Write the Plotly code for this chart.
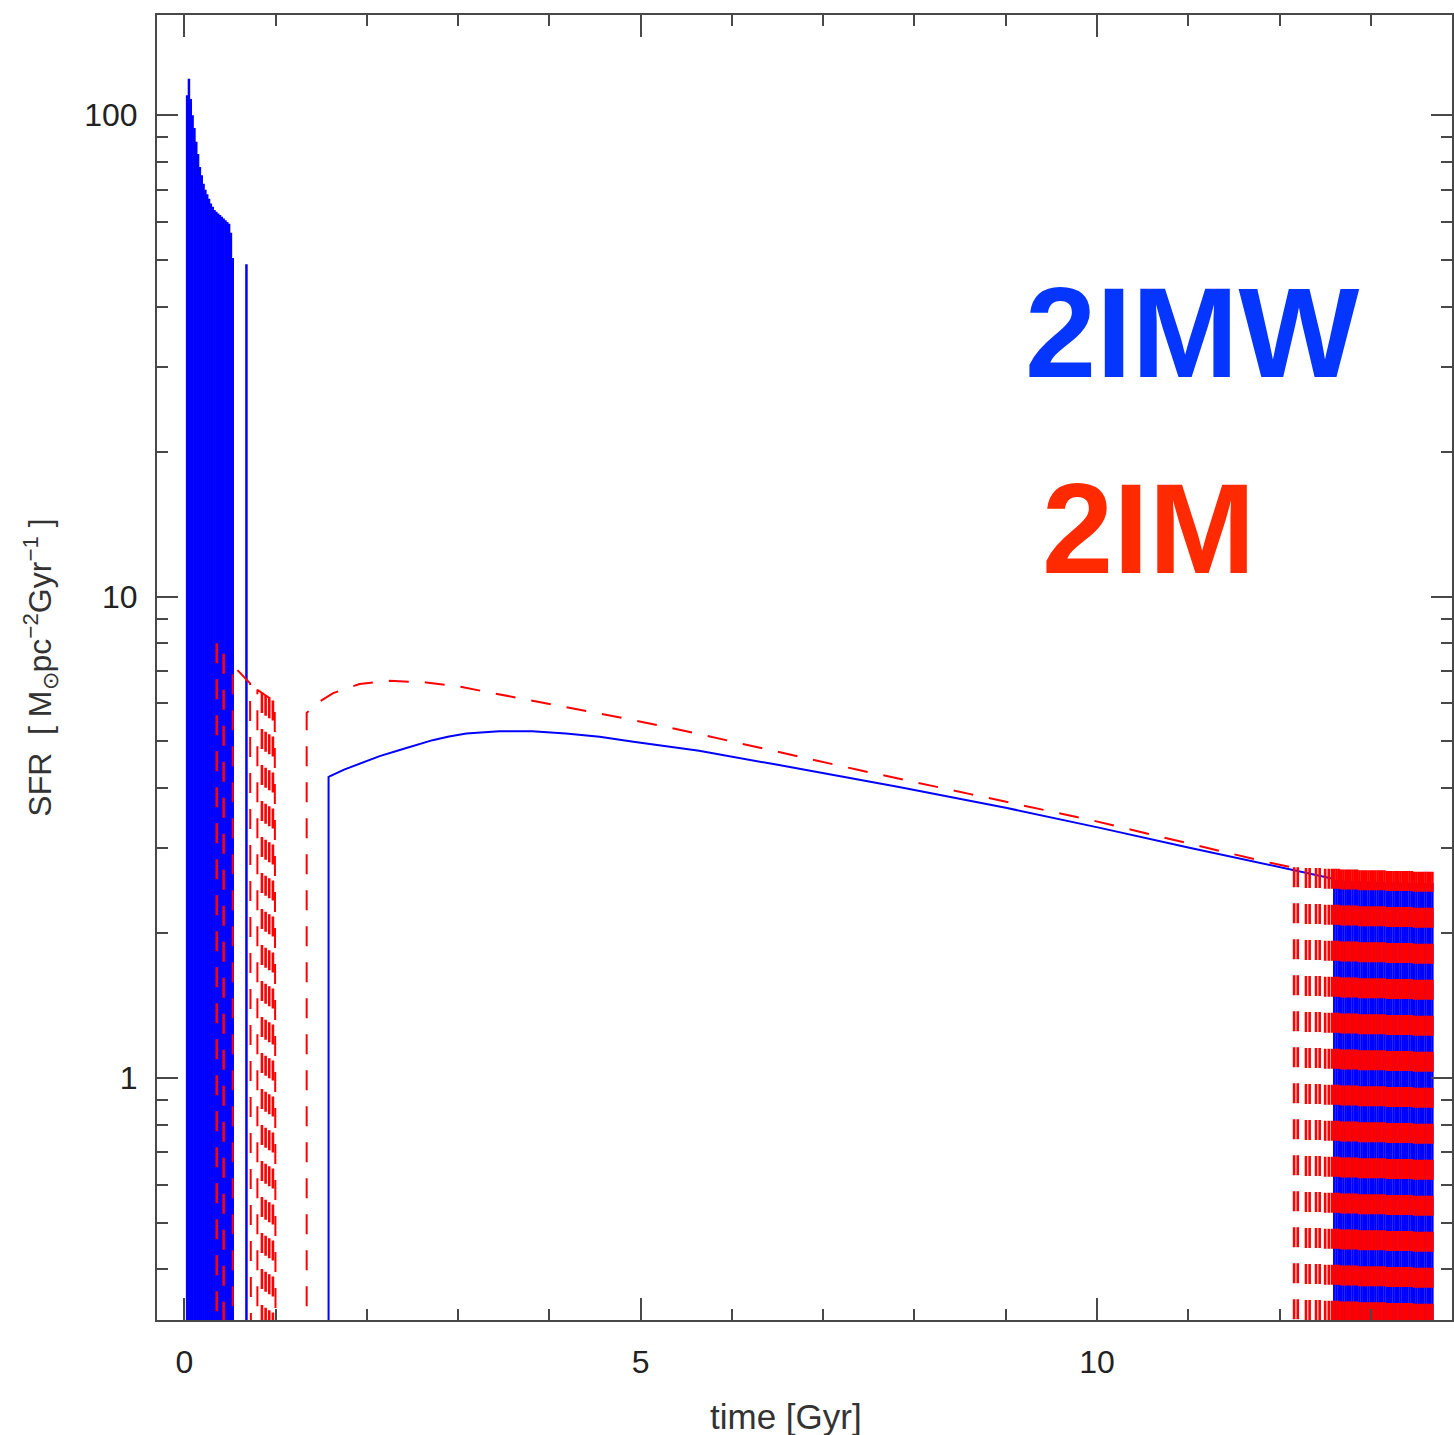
import plotly.graph_objects as go

# ---------------- data ----------------
FLOOR = 0.2   # SFR drops below the plotted range between bursts

# 2IMW (blue, solid): continuous part of the SFR history
blue_t = [1.58, 1.58, 1.75, 1.92, 2.14, 2.36, 2.54, 2.72, 2.9, 3.09, 3.45, 3.81, 4.18,
          4.55, 4.92, 5.28, 5.64, 6.5, 7.83, 9.0, 10.02, 11.0, 12.13, 12.6]
blue_sfr = [FLOOR, 4.22, 4.37, 4.50, 4.66, 4.80, 4.92, 5.03, 5.12, 5.19, 5.25, 5.25, 5.19,
            5.11, 4.99, 4.89, 4.78, 4.47, 4.02, 3.64, 3.31, 3.01, 2.70, 2.59]

# 2IMW bursts (time, peak SFR)
blue_burst_t = [0.03, 0.05, 0.07, 0.09, 0.11, 0.13, 0.15, 0.17, 0.19, 0.21, 0.23,
                0.25, 0.27, 0.29, 0.31, 0.33, 0.35, 0.37, 0.39, 0.41, 0.43, 0.45,
                0.47, 0.49, 0.51, 0.53, 0.68,
                12.600, 12.625, 12.650, 12.675, 12.700, 12.725, 12.750, 12.775,
                12.800, 12.825, 12.850, 12.875, 12.900, 12.925, 12.950, 12.975,
                13.000, 13.025, 13.050, 13.075, 13.100, 13.125, 13.150, 13.175,
                13.200, 13.225, 13.250, 13.275, 13.300, 13.325, 13.350, 13.375,
                13.400, 13.425, 13.450, 13.475, 13.500, 13.525, 13.550, 13.575,
                13.600, 13.625, 13.650, 13.675]
blue_burst_peak = [110, 119, 108, 100, 94, 88, 83, 78, 75, 72, 70,
                   68.5, 67, 65.5, 64.5, 63.5, 63, 62.5, 62, 61.5, 61, 60.5,
                   60, 59.5, 57, 50.5, 49,
                   2.58, 2.58, 2.58, 2.57, 2.57, 2.57, 2.57, 2.57,
                   2.56, 2.56, 2.56, 2.56, 2.56, 2.56, 2.56, 2.56,
                   2.56, 2.56, 2.55, 2.55, 2.55, 2.55, 2.55, 2.55,
                   2.55, 2.55, 2.55, 2.55, 2.55, 2.55, 2.55, 2.55,
                   2.55, 2.54, 2.54, 2.54, 2.54, 2.54, 2.54, 2.54,
                   2.54, 2.54, 2.54, 2.54]

# 2IM (red, dashed): continuous parts of the SFR history (None = gap)
red_t = [0.53, 0.53, 0.72, 0.73, None,
         0.80, 0.80, 0.99, 1.00, None,
         1.34, 1.34, 1.45, 1.63, 1.92, 2.25, 2.65, 3.01, 3.38, 3.89, 4.36, 4.91,
         5.5, 5.83, 6.6, 7.39, 8.6, 9.94, 11.0, 11.85, 12.13]
red_sfr = [FLOOR, 7.2, 6.6, FLOOR, None,
           FLOOR, 6.4, 6.05, FLOOR, None,
           FLOOR, 5.73, 6.0, 6.3, 6.58, 6.68, 6.63, 6.50, 6.30, 6.04, 5.81, 5.54,
           5.25, 5.08, 4.71, 4.36, 3.89, 3.43, 3.07, 2.81, 2.74]

# 2IM bursts (time, peak SFR)
red_burst_t = [0.355, 0.43, 0.85, 0.89, 0.93, 0.97,
               12.16, 12.20, 12.29, 12.33, 12.40, 12.44, 12.50, 12.54,
               12.575, 12.600, 12.625, 12.650, 12.675, 12.700, 12.725, 12.750,
               12.775, 12.800, 12.825, 12.850, 12.875, 12.900, 12.925, 12.950,
               12.975, 13.000, 13.025, 13.050, 13.075, 13.100, 13.125, 13.150,
               13.175, 13.200, 13.225, 13.250, 13.275, 13.300, 13.325, 13.350,
               13.375, 13.400, 13.425, 13.450, 13.475, 13.500, 13.525, 13.550,
               13.575, 13.600, 13.625, 13.650, 13.675]
red_burst_peak = [8.0, 7.6, 6.3, 6.22, 6.15, 6.08,
                  2.74, 2.74, 2.73, 2.73, 2.73, 2.73, 2.72, 2.72,
                  2.72, 2.72, 2.72, 2.72, 2.71, 2.71, 2.71, 2.71,
                  2.71, 2.71, 2.71, 2.71, 2.70, 2.70, 2.70, 2.70,
                  2.70, 2.70, 2.70, 2.70, 2.70, 2.70, 2.70, 2.70,
                  2.69, 2.69, 2.69, 2.69, 2.69, 2.69, 2.69, 2.69,
                  2.69, 2.69, 2.69, 2.69, 2.68, 2.68, 2.68, 2.68,
                  2.68, 2.68, 2.68, 2.68, 2.68]

x_tick_vals = [0, 5, 10]
x_tick_text = ["0", "5", "10"]
y_tick_vals = [1, 10, 100]
y_tick_text = ["1", "10", "100"]
y_minor_vals = [0.4, 0.5, 0.6, 0.7, 0.8, 0.9, 2, 3, 4, 5, 6, 7, 8, 9,
                20, 30, 40, 50, 60, 70, 80, 90]


def burst_segments(ts, peaks):
    xs, ys = [], []
    for t, p in zip(ts, peaks):
        xs += [t, t, None]
        ys += [p, FLOOR, None]
    return xs, ys


BLUE = "#0000ff"
RED = "#ff0000"
DASH = "20px,16px"

fig = go.Figure()
bx, by = burst_segments(blue_burst_t, blue_burst_peak)
fig.add_trace(go.Scatter(x=blue_t, y=blue_sfr, mode="lines",
                         line=dict(color=BLUE, width=2), name="2IMW",
                         hoverinfo="skip"))
fig.add_trace(go.Scatter(x=bx, y=by, mode="lines",
                         line=dict(color=BLUE, width=2.5), name="2IMW bursts",
                         hoverinfo="skip"))
rx, ry = burst_segments(red_burst_t, red_burst_peak)
fig.add_trace(go.Scatter(x=red_t, y=red_sfr, mode="lines",
                         line=dict(color=RED, width=2, dash=DASH), name="2IM",
                         hoverinfo="skip"))
fig.add_trace(go.Scatter(x=rx, y=ry, mode="lines",
                         line=dict(color=RED, width=2.6, dash=DASH), name="2IM bursts",
                         hoverinfo="skip"))

AX_COLOR = "#484848"
TICK_FONT = dict(family="Liberation Sans, Arial, sans-serif", size=32, color="#222222")
LABEL_FONT = "Liberation Sans, Arial, sans-serif"

fig.update_layout(
    width=1454, height=1435,
    margin=dict(l=157, r=0, t=15, b=115),
    paper_bgcolor="white", plot_bgcolor="white",
    showlegend=False,
    xaxis=dict(
        range=[-0.30, 13.89], tickmode="array", tickvals=x_tick_vals, ticktext=x_tick_text,
        ticks="inside", ticklen=22, tickwidth=1.5, tickcolor=AX_COLOR,
        showline=True, linecolor=AX_COLOR, linewidth=2, mirror="ticks",
        showgrid=False, zeroline=False, tickfont=TICK_FONT, ticklabelstandoff=13,
        minor=dict(ticks="inside", ticklen=11, tickwidth=1.5, tickcolor=AX_COLOR,
                   dtick=1, tick0=0, showgrid=False),
    ),
    yaxis=dict(
        type="log", range=[-0.503, 2.208], tickmode="array",
        tickvals=y_tick_vals, ticktext=y_tick_text,
        ticks="inside", ticklen=21, tickwidth=1.5, tickcolor=AX_COLOR,
        showline=True, linecolor=AX_COLOR, linewidth=2, mirror="ticks",
        showgrid=False, zeroline=False, tickfont=TICK_FONT, ticklabelstandoff=11,
        minor=dict(ticks="inside", ticklen=11, tickwidth=1.5, tickcolor=AX_COLOR,
                   tickmode="array", tickvals=y_minor_vals, showgrid=False),
    ),
    annotations=[
        dict(text="time [Gyr]", xref="paper", yref="paper", x=0.4857, y=-0.0736,
             xanchor="center", yanchor="middle", showarrow=False,
             font=dict(family=LABEL_FONT, size=35, color="#333333")),
        dict(text="SFR  [ M<sub>⊙</sub>pc<sup>−2</sup>Gyr<sup>−1</sup> ]",
             xref="paper", yref="paper", x=-0.0902, y=0.5, textangle=-90,
             xanchor="center", yanchor="middle", showarrow=False,
             font=dict(family=LABEL_FONT, size=32, color="#333333")),
        dict(text="<b>2IMW</b>", xref="paper", yref="paper",
             x=(1194 - 157) / 1297, y=(1320 - 333) / 1305,
             xanchor="center", yanchor="middle", showarrow=False,
             font=dict(family=LABEL_FONT, size=128, color="#0536ff")),
        dict(text="<b>2IM</b>", xref="paper", yref="paper",
             x=(1150 - 157) / 1297, y=(1320 - 528) / 1305,
             xanchor="center", yanchor="middle", showarrow=False,
             font=dict(family=LABEL_FONT, size=128, color="#ff2a00")),
    ],
)

fig.write_html("out.html")
